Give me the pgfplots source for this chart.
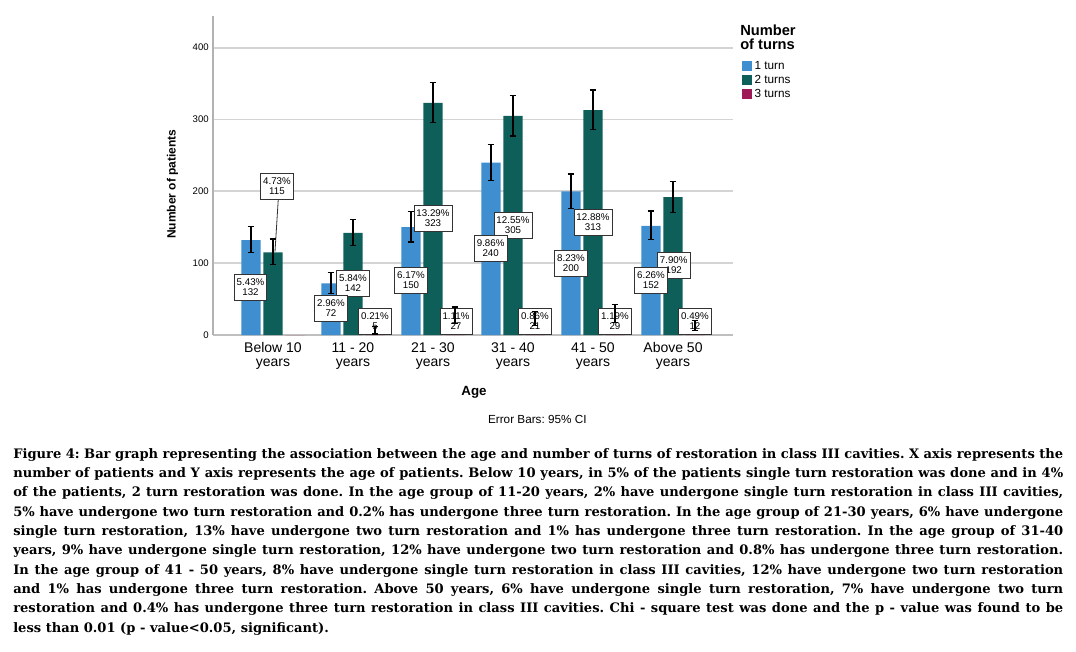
\documentclass[border=0pt]{standalone}
\usepackage{fontspec}
\usepackage{pgfplots}
\pgfplotsset{compat=1.18}
\newfontfamily\arial{Liberation Sans}
\newfontfamily\capfont{DejaVu Serif}
\definecolor{cOne}{HTML}{3E8ED0}
\definecolor{cTwo}{HTML}{0E5F5A}
\definecolor{cThree}{HTML}{9E1B58}
\tikzset{lbl/.style={draw=black!80, fill=white, line width=0.6pt, align=center,
  inner xsep=1.9pt, inner ysep=0pt, minimum height=19.5pt,
  font=\arial\fontsize{7.3}{7.5}\selectfont}}
\newcommand\lab[3]{\node[lbl] at (axis cs:#1,#2) {#3};}
\newcommand\cl[1]{\makebox[787.5pt][s]{#1}\\}
\pgfplotsset{sqleg/.style={legend image code/.code={\fill[##1] (0pt,-3.75pt) rectangle (7.5pt,3.75pt);}}}
\frenchspacing
\begin{document}
\begin{tikzpicture}
\path[use as bounding box] (0,0) rectangle (807pt,488.25pt);
\begin{axis}[
  at={(159.75pt,237pt)}, anchor=south west,
  scale only axis, width=390pt, height=239.25pt,
  xmin=-0.75, xmax=5.75, ymin=0, ymax=444,
  axis x line*=bottom, axis y line*=left,
  x axis line style={draw=black!25, line width=1.4pt},
  y axis line style={draw=black!30, line width=0.8pt},
  ytick={0,100,200,300,400}, xtick={0,1,2,3,4,5},
  xticklabels={Below 10\\years, 11 - 20\\years, 21 - 30\\years, 31 - 40\\years, 41 - 50\\years, Above 50\\years},
  major tick length=0pt,
  ymajorgrids, grid style={draw=black!17, line width=1.4pt},
  /pgf/number format/assume math mode=true,
  yticklabel style={font=\arial\fontsize{7.2}{7.2}\selectfont, inner sep=0pt, xshift=-3pt},
  xticklabel style={font=\arial\fontsize{10.5}{10.5}\selectfont, align=center, inner sep=0pt, yshift=-5.5pt},
  xlabel={Age}, ylabel={Number of patients},
  every axis x label/.style={at={(axis description cs:0.502,-0.1787)}, anchor=center, font=\arial\bfseries\fontsize{10}{10}\selectfont},
  every axis y label/.style={at={(axis description cs:-0.0779,0.473)}, rotate=90, anchor=center, font=\arial\bfseries\fontsize{9}{9}\selectfont},
  legend style={at={(1.0167,0.861)}, anchor=north west, draw=none, fill=none,
    inner sep=0pt, outer sep=0pt, font=\arial\fontsize{8.8}{8.8}\selectfont,
    row sep=2.8pt, nodes={inner sep=0pt, text height=6.5pt, text depth=1.5pt},
    /tikz/every odd column/.append style={column sep=2.2pt}},
  legend cell align=left,
  ybar, bar width=0.241,
]
\addplot[fill=cOne, draw=none, bar shift=0pt, sqleg] coordinates {(-0.275,132) (0.725,72) (1.725,150) (2.725,240) (3.725,200) (4.725,152)};
\addlegendentry{1 turn}
\addplot[fill=cTwo, draw=none, bar shift=0pt, sqleg] coordinates {(0,115) (1,142) (2,323) (3,305) (4,313) (5,192)};
\addlegendentry{2 turns}
\addplot[fill=cThree, draw=none, bar shift=0pt, sqleg] coordinates {(0.275,0) (1.275,5) (2.275,27) (3.275,21) (4.275,29) (5.275,12)};
\addlegendentry{3 turns}
% leader line
\draw[black!80, line width=0.6pt] (axis cs:0.066,189.3) -- (axis cs:0.025,116);
% labels: 2 turns
\lab{0.05}{207.4}{4.73\%\\115}
\lab{1.0}{72.4}{5.84\%\\142}
\lab{2.0}{162.9}{13.29\%\\323}
\lab{3.0}{153.1}{12.55\%\\305}
\lab{4.0}{157.3}{12.88\%\\313}
\lab{5.009}{96.8}{7.90\%\\192}
% labels: 3 turns
\lab{1.275}{19.5}{0.21\%\\5}
\lab{2.2875}{19.5}{1.11\%\\27}
\lab{3.275}{19.5}{0.86\%\\21}
\lab{4.275}{19.5}{1.19\%\\29}
\lab{5.275}{19.5}{0.49\%\\12}
% labels: 1 turn
\lab{-0.281}{66.8}{5.43\%\\132}
\lab{0.725}{36.9}{2.96\%\\72}
\lab{1.725}{75.9}{6.17\%\\150}
\lab{2.721}{121.1}{9.86\%\\240}
\lab{3.725}{100.2}{8.23\%\\200}
\lab{4.725}{75.9}{6.26\%\\152}
% error bars (95% CI)
\addplot[forget plot, fill=none, draw=none, bar shift=0pt,
  error bars/.cd, y dir=both, y explicit,
  error bar style={draw=black, line width=0.9pt},
  error mark options={draw=black, line width=0.9pt, mark size=2.6pt, rotate=90}]
  coordinates {(-0.275,132) += (0,18.8) -= (0,16.9)
   (0.725,72) += (0,15.3) -= (0,14)
   (1.725,150) += (0,22) -= (0,20.5)
   (2.725,240) += (0,25.5) -= (0,25.5)
   (3.725,200) += (0,24) -= (0,24)
   (4.725,152) += (0,20.7) -= (0,19.3)};
\addplot[forget plot, fill=none, draw=none, bar shift=0pt,
  error bars/.cd, y dir=both, y explicit,
  error bar style={draw=black, line width=0.9pt},
  error mark options={draw=black, line width=0.9pt, mark size=2.6pt, rotate=90}]
  coordinates {(0,115) += (0,18.6) -= (0,16.6)
   (1,142) += (0,18.5) -= (0,17)
   (2,323) += (0,28) -= (0,27)
   (3,305) += (0,28) -= (0,28)
   (4,313) += (0,28) -= (0,27)
   (5,192) += (0,22) -= (0,21)};
\addplot[forget plot, fill=none, draw=none, bar shift=0pt,
  error bars/.cd, y dir=both, y explicit,
  error bar style={draw=black, line width=0.9pt},
  error mark options={draw=black, line width=0.9pt, mark size=2.6pt, rotate=90}]
  coordinates {(1.275,5) += (0,7) -= (0,3.5)
   (2.275,27) += (0,12) -= (0,11)
   (3.275,21) += (0,12) -= (0,8)
   (4.275,29) += (0,13) -= (0,12)
   (5.275,12) += (0,8) -= (0,6)};
\end{axis}
\node[anchor=north west, inner sep=0pt, align=left, font=\arial\bfseries\fontsize{11}{10.2}\selectfont] at (555pt,469.5pt) {Number\\of turns};
\node[anchor=base, inner sep=0pt, font=\arial\fontsize{8.8}{8.8}\selectfont] at (403pt,171pt) {Error Bars: 95\% CI};
\node[anchor=north west, inner sep=0pt, align=left, font=\capfont\bfseries\fontsize{9.8}{14.5}\selectfont] at (9.75pt,152.3pt) {%
\cl{Figure 4: Bar graph representing the association between the age and number of turns of restoration in class III cavities. X axis represents the}
\cl{number of patients and Y axis represents the age of patients. Below 10 years, in 5\% of the patients single turn restoration was done and in 4\%}
\cl{of the patients, 2 turn restoration was done. In the age group of 11-20 years, 2\% have undergone single turn restoration in class III cavities,}
\cl{5\% have undergone two turn restoration and 0.2\% has undergone three turn restoration. In the age group of 21-30 years, 6\% have undergone}
\cl{single turn restoration, 13\% have undergone two turn restoration and 1\% has undergone three turn restoration. In the age group of 31-40}
\cl{years, 9\% have undergone single turn restoration, 12\% have undergone two turn restoration and 0.8\% has undergone three turn restoration.}
\cl{In the age group of 41 - 50 years, 8\% have undergone single turn restoration in class III cavities, 12\% have undergone two turn restoration}
\cl{and 1\% has undergone three turn restoration. Above 50 years, 6\% have undergone single turn restoration, 7\% have undergone two turn}
\cl{restoration and 0.4\% has undergone three turn restoration in class III cavities. Chi - square test was done and the p - value was found to be}
less than 0.01 (p - value<0.05, significant).};
\end{tikzpicture}
\end{document}
